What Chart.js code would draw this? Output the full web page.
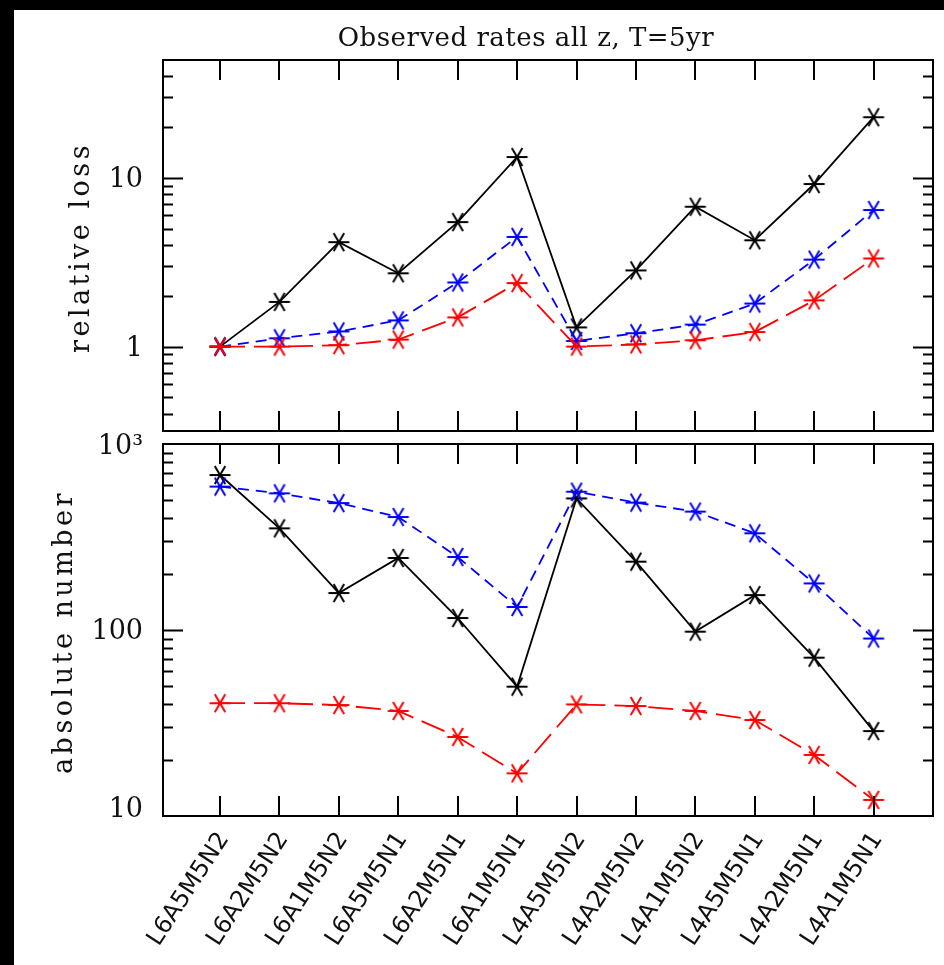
<!DOCTYPE html>
<html>
<head>
<meta charset="utf-8">
<script src="https://cdn.jsdelivr.net/npm/chart.js@4/dist/chart.umd.min.js"></script>
<style>
html,body{margin:0;padding:0;background:#000;width:944px;height:965px;overflow:hidden}
#bg{position:absolute;left:14px;top:10px;width:930px;height:955px;background:#fff}
#c1{position:absolute;left:0;top:0}
#c2{position:absolute;left:0;top:420px}
</style>
</head>
<body>
<div id="bg"></div>
<canvas id="c1" width="944" height="437"></canvas>
<canvas id="c2" width="944" height="545"></canvas>
<script>
const categories = ['L6A5M5N2','L6A2M5N2','L6A1M5N2','L6A5M5N1','L6A2M5N1','L6A1M5N1',
                    'L4A5M5N2','L4A2M5N2','L4A1M5N2','L4A5M5N1','L4A2M5N1','L4A1M5N1'];
// relative loss (top panel)
const lossBlack = [1, 1.84, 4.16, 2.72, 5.47, 13.3, 1.30, 2.83, 6.75, 4.27, 9.2, 22.9];
const lossBlue  = [1, 1.12, 1.23, 1.43, 2.40, 4.47, 1.08, 1.20, 1.35, 1.80, 3.28, 6.45];
const lossRed   = [1, 1.00, 1.02, 1.10, 1.49, 2.38, 1.00, 1.03, 1.09, 1.22, 1.88, 3.33];
// absolute number (bottom panel)
const numBlack = [681, 352, 158, 244, 116, 49.6, 510, 233, 98, 154, 71, 28.6];
const numBlue  = [590, 543, 481, 405, 247, 133, 554, 484, 433, 331, 178, 90];
const numRed   = [40.4, 40.4, 39.5, 36.7, 26.6, 16.95, 39.8, 39.0, 36.7, 32.8, 21.3, 12.2];
// tick labels
const lossTickValues = [1, 10];
const lossTickLabels = ['1', '10'];
const numTickValues = [10, 100, 1000];
const numTickLabels = ['10', '100', '10\u00B3'];
const chartTitle = 'Observed rates all z, T=5yr';
const lossAxisTitle = 'relative loss';
const numAxisTitle = 'absolute number';

function asterisk(color) {
  const s = 28, c = document.createElement('canvas');
  c.width = s; c.height = s;
  const g = c.getContext('2d');
  g.strokeStyle = color; g.lineWidth = 2;
  const r = 10.5, h = s / 2;
  g.beginPath();
  for (const a of [0, Math.PI / 3, 2 * Math.PI / 3]) {
    g.moveTo(h - r * Math.cos(a), h - r * Math.sin(a));
    g.lineTo(h + r * Math.cos(a), h + r * Math.sin(a));
  }
  g.stroke();
  return c;
}

function ds(vals, color, dash, order) {
  return {
    data: vals.map((v, i) => ({ x: i, y: v })),
    borderColor: color, backgroundColor: color, borderWidth: 1.8, borderDash: dash,
    pointStyle: asterisk(color), pointRadius: 10, order: order, fill: false, tension: 0
  };
}

const frame = {
  id: 'frame',
  afterDraw(chart, args, o) {
    const { ctx, chartArea: a, scales } = chart;
    const x = scales.x, y = scales.y;
    ctx.save();
    ctx.strokeStyle = '#000'; ctx.lineWidth = 2;
    ctx.strokeRect(a.left, a.top, a.right - a.left, a.bottom - a.top);
    ctx.beginPath();
    for (let i = 0; i < categories.length; i++) {
      const px = Math.round(x.getPixelForValue(i));
      ctx.moveTo(px, a.bottom); ctx.lineTo(px, a.bottom - 20);
      ctx.moveTo(px, a.top); ctx.lineTo(px, a.top + 20);
    }
    const lo = Math.floor(Math.log10(y.min)), hi = Math.ceil(Math.log10(y.max));
    for (let d = lo; d <= hi; d++) for (let m = 1; m <= 9; m++) {
      const v = m * Math.pow(10, d);
      if (v <= y.min * 1.001 || v >= y.max * 0.999) continue;
      const py = Math.round(y.getPixelForValue(v)) + 0.5;
      const len = m === 1 ? 20 : 10;
      ctx.moveTo(a.left, py); ctx.lineTo(a.left + len, py);
      ctx.moveTo(a.right, py); ctx.lineTo(a.right - len, py);
    }
    ctx.stroke();
    // y tick labels
    ctx.fillStyle = '#111';
    ctx.font = '27px "DejaVu Serif"';
    ctx.textAlign = 'right'; ctx.textBaseline = 'middle';
    o.tickValues.forEach((v, k) => {
      let py = y.getPixelForValue(v) + 2;
      py = Math.min(Math.max(py, a.top + 3), a.bottom - 6);
      ctx.fillText(o.tickLabels[k], a.left - 20, py);
    });
    // axis title
    ctx.save();
    ctx.font = '27px "DejaVu Serif"';
    ctx.letterSpacing = '3.5px';
    ctx.textAlign = 'center'; ctx.textBaseline = 'alphabetic';
    ctx.translate(a.left - o.titleOffset, (a.top + a.bottom) / 2 + 2);
    ctx.rotate(-Math.PI / 2);
    ctx.fillText(o.axisTitle, 0, 0);
    ctx.restore();
    if (o.mainTitle) {
      ctx.font = '26px "DejaVu Serif"';
      ctx.letterSpacing = '0.5px';
      ctx.textAlign = 'center'; ctx.textBaseline = 'alphabetic';
      ctx.fillText(o.mainTitle, 526, 46);
      ctx.letterSpacing = '0px';
    }
    if (o.xLabels) {
      ctx.font = '24px "DejaVu Sans"';
      ctx.textAlign = 'right'; ctx.textBaseline = 'middle';
      categories.forEach((c, i) => {
        const px = x.getPixelForValue(i);
        ctx.save();
        ctx.translate(px + 4, a.bottom + 19);
        ctx.rotate(-57 * Math.PI / 180);
        ctx.fillText(c, 0, 0);
        ctx.restore();
      });
    }
    ctx.restore();
  }
};

function makeChart(id, sets, yMin, yMax, pad, frameOpts) {
  return new Chart(document.getElementById(id), {
    type: 'line',
    data: { datasets: sets },
    options: {
      responsive: false, animation: false,
      layout: { padding: pad, autoPadding: false },
      plugins: { legend: { display: false }, tooltip: { enabled: false }, frame: frameOpts },
      scales: {
        x: { type: 'linear', min: -0.96, max: 12.0, bounds: 'data', display: false },
        y: { type: 'logarithmic', min: yMin, max: yMax, bounds: 'data', display: false }
      }
    },
    plugins: [frame]
  });
}

makeChart('c1',
  [ds(lossBlack, '#000000', [], 3), ds(lossBlue, '#0000ff', [11, 7], 2), ds(lossRed, '#ff0000', [25, 9], 1)],
  0.316, 50, { left: 163, right: 11, top: 60, bottom: 6 },
  { tickValues: lossTickValues, tickLabels: lossTickLabels, axisTitle: lossAxisTitle, titleOffset: 74, mainTitle: chartTitle });

makeChart('c2',
  [ds(numBlack, '#000000', [], 3), ds(numBlue, '#0000ff', [11, 7], 2), ds(numRed, '#ff0000', [25, 9], 1)],
  10, 1000, { left: 163, right: 11, top: 24, bottom: 149 },
  { tickValues: numTickValues, tickLabels: numTickLabels, axisTitle: numAxisTitle, titleOffset: 91, xLabels: true });
</script>
</body>
</html>
